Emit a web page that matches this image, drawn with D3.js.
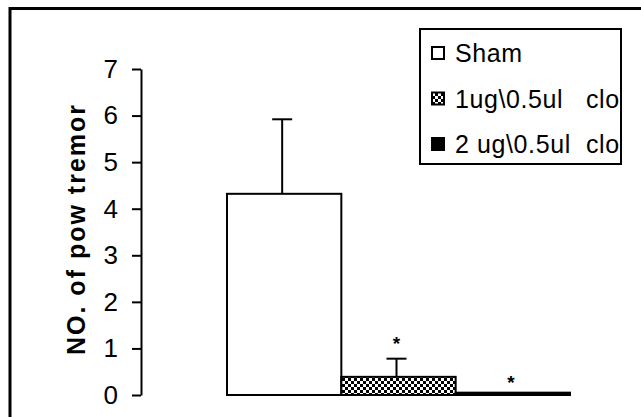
<!DOCTYPE html>
<html>
<head>
<meta charset="utf-8">
<script src="https://cdn.jsdelivr.net/npm/d3@7"></script>
<style>
  body { margin: 0; background: #fff; }
  text { font-family: "Liberation Sans", Arial, sans-serif; }
</style>
</head>
<body>
<svg id="chart" width="641" height="417"></svg>
<script>
// Chart data
const groups = ["Sham", "1ug\\0.5ul   clo", "2 ug\\0.5ul  clo"];
const means = [4.32, 0.39, 0.05];
const errors = [1.6, 0.39, 0];
const significant = [false, true, true];
const yTicks = [0, 1, 2, 3, 4, 5, 6, 7];

// Plot area
let x = d3.scaleBand().domain(groups).range([227, 570]).padding(0);
let y = d3.scaleLinear().domain([0, 7]).range([395, 69]);

let svg = d3.select("#chart");

// Checker pattern for the middle bar
let defs = svg.append("defs");
let pat = defs.append("pattern")
    .attr("id", "checks")
    .attr("width", 6).attr("height", 6)
    .attr("patternUnits", "userSpaceOnUse");
pat.append("rect").attr("width", 6).attr("height", 6).attr("fill", "#fff");
pat.append("rect").attr("width", 3).attr("height", 3).attr("fill", "#000");
pat.append("rect").attr("x", 3).attr("y", 3).attr("width", 3).attr("height", 3).attr("fill", "#000");

const fills = ["#fff", "url(#checks)", "#000"];

defs.append("clipPath").attr("id", "legclip")
    .append("rect").attr("x", 420).attr("y", 29).attr("width", 201).attr("height", 135);

// Outer frame (runs off the right and bottom edges)
svg.append("rect")
    .attr("x", 10).attr("y", 8.5)
    .attr("width", 700).attr("height", 500)
    .attr("fill", "none")
    .attr("stroke", "#000")
    .attr("stroke-width", 3);

// Bars
svg.selectAll(".bar")
    .data(groups)
    .enter().append("rect")
    .attr("class", "bar")
    .attr("x", d => x(d))
    .attr("y", (d, i) => y(means[i]))
    .attr("width", x.bandwidth())
    .attr("height", (d, i) => y(0) - y(means[i]))
    .attr("fill", (d, i) => fills[i])
    .attr("stroke", "#000")
    .attr("stroke-width", 2);

// Error bars (upper only)
groups.forEach(function(g, i) {
    if (errors[i] <= 0) return;
    let cx = x(g) + x.bandwidth() / 2 - 2;
    svg.append("line")
        .attr("x1", cx).attr("x2", cx)
        .attr("y1", y(means[i])).attr("y2", y(means[i] + errors[i]))
        .attr("stroke", "#000").attr("stroke-width", 2);
    svg.append("line")
        .attr("x1", cx - 10).attr("x2", cx + 10)
        .attr("y1", y(means[i] + errors[i])).attr("y2", y(means[i] + errors[i]))
        .attr("stroke", "#000").attr("stroke-width", 2);
});

// Significance stars
groups.forEach(function(g, i) {
    if (!significant[i]) return;
    svg.append("text")
        .attr("x", x(g) + x.bandwidth() / 2 - 2)
        .attr("y", y(means[i] + errors[i]) - (errors[i] > 0 ? 9 : 4))
        .attr("text-anchor", "middle")
        .attr("font-size", 19)
        .attr("font-weight", "bold")
        .text("*");
});

// Y axis
let yAxis = d3.axisLeft(y).tickValues(yTicks).tickFormat(d3.format("d"))
    .tickSize(9).tickSizeOuter(0).tickPadding(14);
let ax = svg.append("g")
    .attr("transform", "translate(141,0)")
    .call(yAxis);
ax.select(".domain").attr("stroke-width", 2);
ax.selectAll(".tick line").attr("stroke-width", 2);
ax.selectAll(".tick text")
    .attr("font-size", 26)
    .attr("font-family", "Liberation Sans, Arial, sans-serif")
    .attr("fill", "#000");

// Y axis title
svg.append("text")
    .attr("transform", "translate(85,229) rotate(-90)")
    .attr("text-anchor", "middle")
    .attr("font-size", 25)
    .attr("font-weight", "bold")
    .attr("letter-spacing", 2)
    .text("NO. of pow tremor");

// Legend
svg.append("rect")
    .attr("x", 420).attr("y", 29)
    .attr("width", 201).attr("height", 135)
    .attr("fill", "#fff")
    .attr("stroke", "#000")
    .attr("stroke-width", 2);

let leg = svg.append("g").attr("clip-path", "url(#legclip)");
groups.forEach(function(g, i) {
    let cy = 53 + i * 45.5;
    leg.append("rect")
        .attr("x", 432).attr("y", cy - 6)
        .attr("width", 12).attr("height", 12)
        .attr("fill", fills[i])
        .attr("stroke", "#000")
        .attr("stroke-width", 2);
    leg.append("text")
        .attr("x", 455).attr("y", cy + 9)
        .attr("font-size", 25)
        .attr("letter-spacing", 0.6)
        .style("white-space", "pre")
        .text(g);
});
</script>
</body>
</html>
